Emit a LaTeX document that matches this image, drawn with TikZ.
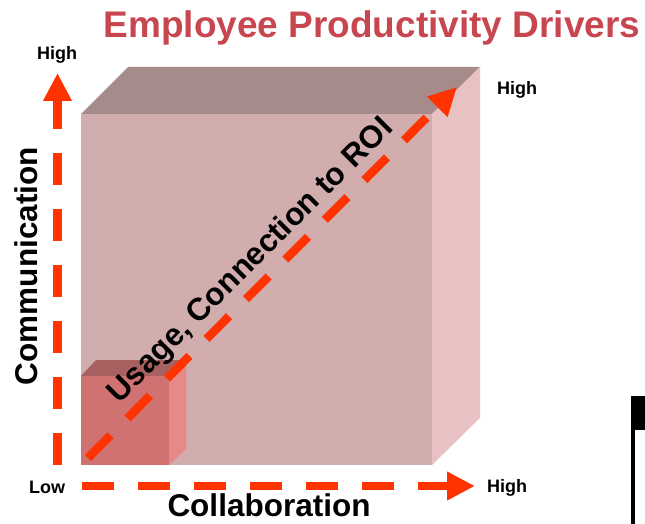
\documentclass[tikz,border=0pt]{standalone}
\usepackage{fontspec}
\setmainfont{Liberation Sans}
\usetikzlibrary{arrows.meta}
\definecolor{axisred}{RGB}{255,51,0}
\definecolor{titlered}{RGB}{200,70,80}
\definecolor{bigtop}{RGB}{166,139,139}
\definecolor{bigfront}{RGB}{209,173,173}
\definecolor{bigside}{RGB}{232,194,194}
\definecolor{smallfront}{RGB}{208,114,114}
\definecolor{smalltop}{RGB}{168,96,96}
\definecolor{smallside}{RGB}{232,136,136}
\begin{document}
\begin{tikzpicture}[x=1pt,y=-1pt,
  lbl/.style={font=\fontsize{18}{20}\selectfont\bfseries, inner sep=0pt, anchor=base},
  axislbl/.style={font=\fontsize{31.5}{34}\selectfont\bfseries, inner sep=0pt, anchor=base},
  axisarrow/.style={draw=axisred, line width=8.5pt, dash pattern=on 32pt off 24pt,
    -{Triangle[length=28pt,width=27pt]}},
  face/.style={draw=none}
]
\useasboundingbox (0,0) rectangle (645,524);
% big cube
\fill[bigtop] (81,114) -- (128,67) -- (480,67) -- (432,114) -- cycle;
\fill[bigside] (432,114) -- (480,67) -- (480,418) -- (432,465) -- cycle;
\fill[bigfront] (81,114) rectangle (432,465);
% small cube
\fill[smalltop] (81,376) -- (96,360) -- (186,360) -- (169,376) -- cycle;
\fill[smallside] (169,376) -- (186,360) -- (186,449) -- (169,465) -- cycle;
\fill[smallfront] (81,376) rectangle (169,465);
% title
\node[font=\fontsize{37}{40}\selectfont\bfseries, text=titlered, inner sep=0pt, anchor=base] (title) at (372,38) {Employee Productivity Drivers};
% axes
\coordinate (yorig) at (57.5,465);
\coordinate (ytip) at (57.5,73);
\coordinate (xorig) at (82,486);
\coordinate (xtip) at (475,486);
\coordinate (dorig) at (88,458);
\coordinate (dtip) at (457,87);
\draw[axisarrow] (yorig) -- (ytip);
\draw[axisarrow] (xorig) -- (xtip);
\draw[axisarrow] (dorig) -- (dtip);
% labels
\node[lbl] (yhigh) at (57,60) {High};
\node[lbl] (dhigh) at (517,95) {High};
\node[lbl] (low) at (47,493) {Low};
\node[lbl] (xhigh) at (507,492) {High};
\node[axislbl] (xlabel) at (269,516) {Collaboration};
\node[axislbl, rotate=90] (ylabel) at (37,266) {Communication};
\node[axislbl, rotate=45] (dlabel) at (257,267) {Usage, Connection to ROI};
% black bar
\fill[black] (631,396) rectangle (645,430);
\fill[black] (631,396) rectangle (635,524);
\end{tikzpicture}
\end{document}
